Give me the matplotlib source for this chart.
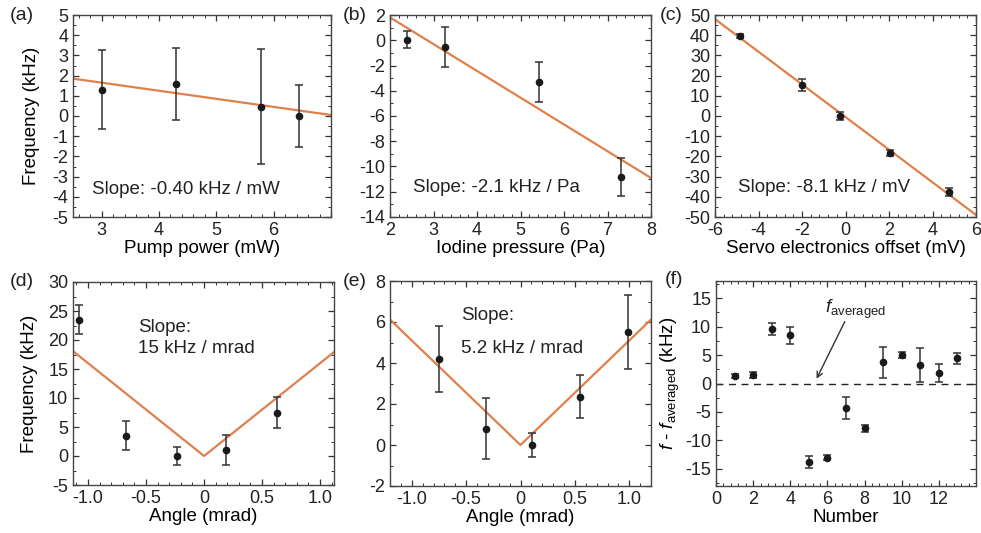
import matplotlib
matplotlib.use("Agg")
import matplotlib.pyplot as plt
import numpy as np
from matplotlib.ticker import AutoMinorLocator, MultipleLocator

plt.rcParams["font.family"] = ["Liberation Sans", "DejaVu Sans"]
plt.rcParams["mathtext.fontset"] = "custom"
plt.rcParams["mathtext.rm"] = "Liberation Sans"
plt.rcParams["mathtext.it"] = "Liberation Sans:italic"
plt.rcParams["axes.unicode_minus"] = False

# %% data
# (a) pump power
pump_x = [3.0, 4.3, 5.78, 6.45]
pump_y = [1.3, 1.6, 0.45, 0.0]
pump_err = [1.95, 1.78, 2.85, 1.53]
pump_fit = (-0.40, 2.85)  # slope, intercept

# (b) iodine pressure
iod_x = [2.4, 3.27, 5.43, 7.3]
iod_y = [0.05, -0.55, -3.3, -10.8]
iod_err = [0.65, 1.6, 1.6, 1.5]
iod_fit = (-2.12, 6.05)

# (c) servo electronics offset
servo_x = [-4.85, -2.0, -0.25, 2.05, 4.75]
servo_y = [39.5, 15.5, 0.0, -18.5, -37.5]
servo_err = [1.0, 3.0, 2.0, 1.5, 2.0]
servo_fit = (-8.08, -0.5)

# (d) angle, first set
ang1_x = [-1.08, -0.67, -0.23, 0.19, 0.63]
ang1_y = [23.5, 3.5, 0.0, 1.0, 7.5]
ang1_err = [2.5, 2.5, 1.5, 2.6, 2.7]
ang1_slope = 16.0

# (e) angle, second set
ang2_x = [-0.75, -0.32, 0.11, 0.55, 0.99]
ang2_y = [4.2, 0.8, 0.0, 2.35, 5.5]
ang2_err = [1.6, 1.5, 0.6, 1.05, 1.8]
ang2_slope = 5.1

# (f) repeated measurements
num_x = list(range(1, 14))
num_y = [1.3, 1.5, 9.6, 8.5, -13.8, -13.0, -4.3, -7.9, 3.7, 5.0, 3.3, 1.8, 4.4]
num_err = [0.3, 0.5, 1.0, 1.5, 1.0, 0.5, 1.9, 0.6, 2.7, 0.5, 3.0, 1.6, 1.0]

W, H = 981, 533
FIT_COLOR = "#E0804A"
PT_COLOR = "#1a1a1a"
FS = 13


def px_axes(fig, left, right, top, bottom):
    return fig.add_axes([left / W, 1 - bottom / H, (right - left) / W, (bottom - top) / H])


def style(ax, xlim, ylim, xmaj, ymaj):
    ax.set_xlim(*xlim)
    ax.set_ylim(*ylim)
    ax.xaxis.set_major_locator(MultipleLocator(xmaj))
    ax.yaxis.set_major_locator(MultipleLocator(ymaj))
    ax.xaxis.set_minor_locator(AutoMinorLocator(5))
    ax.yaxis.set_minor_locator(AutoMinorLocator(2))
    ax.tick_params(which="both", direction="in", top=True, right=True,
                   labelsize=FS, colors="#333333", labelcolor="#222222")
    ax.tick_params(which="major", length=4, width=0.9)
    ax.tick_params(which="minor", length=2, width=0.7)
    for s in ax.spines.values():
        s.set_color("#444444")
        s.set_linewidth(1.0)
    ax.set_facecolor("white")


def points(ax, x, y, err):
    ax.errorbar(x, y, yerr=err, fmt="o", ms=4.5, color=PT_COLOR, ecolor="#333333",
                elinewidth=1.1, capsize=3, capthick=1.1, zorder=3)


fig = plt.figure(figsize=(W / 100, H / 100), dpi=100)

# %% (a)
ax = px_axes(fig, 73, 331, 15, 217)
style(ax, (2.5, 7), (-5, 5), 1, 1)
xx = np.array([2.5, 7])
ax.plot(xx, pump_fit[0] * xx + pump_fit[1], color=FIT_COLOR, lw=1.6, zorder=2)
points(ax, pump_x, pump_y, pump_err)
ax.set_xticks([3, 4, 5, 6, 7])
ax.set_xticklabels(["3", "4", "5", "6", ""])
ax.set_xlabel("Pump power (mW)", fontsize=13.5, labelpad=1)
ax.set_ylabel("Frequency (kHz)", fontsize=13.5, labelpad=9)
ax.text(2.83, -3.65, "Slope: -0.40 kHz / mW", fontsize=13.5, va="center", color="#222222")

# %% (b)
ax = px_axes(fig, 390, 651, 15, 217)
style(ax, (2, 8), (-14, 2), 1, 2)
xx = np.array([2, 8])
ax.plot(xx, iod_fit[0] * xx + iod_fit[1], color=FIT_COLOR, lw=1.6, zorder=2)
points(ax, iod_x, iod_y, iod_err)
ax.set_xlabel("Iodine pressure (Pa)", fontsize=13.5, labelpad=1)
ax.text(2.53, -11.7, "Slope: -2.1 kHz / Pa", fontsize=13.5, va="center", color="#222222")

# %% (c)
ax = px_axes(fig, 715, 976, 15, 217)
style(ax, (-6, 6), (-50, 50), 2, 10)
xx = np.array([-6, 6])
ax.plot(xx, servo_fit[0] * xx + servo_fit[1], color=FIT_COLOR, lw=1.6, zorder=2)
points(ax, servo_x, servo_y, servo_err)
ax.set_xlabel("Servo electronics offset (mV)", fontsize=13.5, labelpad=1)
ax.text(-4.94, -35.6, "Slope: -8.1 kHz / mV", fontsize=13.5, va="center", color="#222222")

# %% (d)
ax = px_axes(fig, 73, 334, 282, 485)
style(ax, (-1.13, 1.12), (-5, 30), 0.5, 5)
xx = np.array([-1.13, 0, 1.12])
ax.plot(xx, ang1_slope * np.abs(xx), color=FIT_COLOR, lw=1.6, zorder=2)
points(ax, ang1_x, ang1_y, ang1_err)
ax.set_xticks([-1.0, -0.5, 0, 0.5, 1.0])
ax.set_xticklabels(["-1.0", "-0.5", "0", "0.5", "1.0"])
ax.set_xlabel("Angle (mrad)", fontsize=13.5, labelpad=1)
ax.set_ylabel("Frequency (kHz)", fontsize=13.5, labelpad=7)
ax.text(-0.57, 22.2, "Slope:", fontsize=13.5, va="center", color="#222222")
ax.text(-0.57, 18.6, "15 kHz / mrad", fontsize=13.5, va="center", color="#222222")

# %% (e)
ax = px_axes(fig, 390, 651, 281, 486)
style(ax, (-1.2, 1.2), (-2, 8), 0.5, 2)
xx = np.array([-1.2, 0, 1.2])
ax.plot(xx, ang2_slope * np.abs(xx), color=FIT_COLOR, lw=1.6, zorder=2)
points(ax, ang2_x, ang2_y, ang2_err)
ax.set_xticks([-1.0, -0.5, 0, 0.5, 1.0])
ax.set_xticklabels(["-1.0", "-0.5", "0", "0.5", "1.0"])
ax.set_xlabel("Angle (mrad)", fontsize=13.5, labelpad=1)
ax.text(-0.55, 6.3, "Slope:", fontsize=13.5, va="center", color="#222222")
ax.text(-0.55, 4.73, "5.2 kHz / mrad", fontsize=13.5, va="center", color="#222222")

# %% (f)
ax = px_axes(fig, 716, 976, 281, 486)
style(ax, (0, 14), (-18, 18), 2, 5)
ax.set_xticks(range(0, 13, 2))
ax.axhline(0, color="#222222", lw=1.0, ls=(0, (5, 4)), zorder=1)
points(ax, num_x, num_y, num_err)
ax.set_xlabel("Number", fontsize=13.5, labelpad=1)
ax.set_ylabel(r"$f$ - $f_{\mathrm{averaged}}$ (kHz)", fontsize=13.5, labelpad=2)
ax.annotate("", xy=(5.35, 0.4), xytext=(7.0, 11.3),
            arrowprops=dict(arrowstyle="->", color="#333333", lw=1.0))
ax.text(7.5, 13.0, r"$f_{\mathrm{averaged}}$", fontsize=13.5, ha="center", va="center",
        color="#222222")

# %% panel labels
for lab, x, y in [("(a)", 10, 15), ("(b)", 343, 15), ("(c)", 660, 15),
                  ("(d)", 10, 281), ("(e)", 343, 281), ("(f)", 665, 280)]:
    fig.text(x / W, 1 - y / H, lab, fontsize=14, va="center", ha="left", color="#222222")

fig.savefig("out.png", dpi=100)
